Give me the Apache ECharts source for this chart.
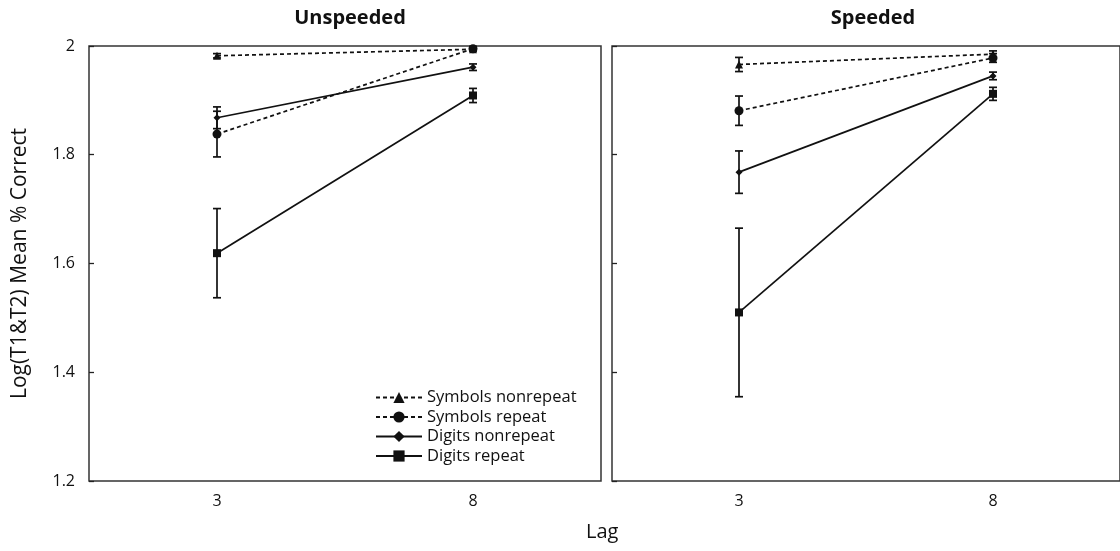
<!DOCTYPE html>
<html><head><meta charset="utf-8">
<script src="https://cdn.jsdelivr.net/npm/echarts@6/dist/echarts.min.js"></script>
<style>html,body{margin:0;padding:0;background:#fff}#c{width:1120px;height:551px}</style>
</head><body><div id="c"></div>
<script>
const lagLabels = ['3', '8'];
const seriesNames = ['Symbols nonrepeat', 'Symbols repeat', 'Digits nonrepeat', 'Digits repeat'];
const panelTitles = ['Unspeeded', 'Speeded'];
const yTickValues = [1.2, 1.4, 1.6, 1.8, 2];

const unspeededSymNon = [1.982, 1.994];
const unspeededSymNonErr = [0.004, 0.003];
const unspeededSymRep = [1.838, 1.995];
const unspeededSymRepErr = [0.042, 0.004];
const unspeededDigNon = [1.868, 1.961];
const unspeededDigNonErr = [0.020, 0.006];
const unspeededDigRep = [1.619, 1.909];
const unspeededDigRepErr = [0.082, 0.013];

const speededSymNon = [1.966, 1.985];
const speededSymNonErr = [0.013, 0.006];
const speededSymRep = [1.881, 1.978];
const speededSymRepErr = [0.027, 0.008];
const speededDigNon = [1.768, 1.945];
const speededDigNonErr = [0.039, 0.007];
const speededDigRep = [1.510, 1.912];
const speededDigRepErr = [0.155, 0.012];

const panels = [
  [[unspeededSymNon, unspeededSymNonErr], [unspeededSymRep, unspeededSymRepErr], [unspeededDigNon, unspeededDigNonErr], [unspeededDigRep, unspeededDigRepErr]],
  [[speededSymNon, speededSymNonErr], [speededSymRep, speededSymRepErr], [speededDigNon, speededDigNonErr], [speededDigRep, speededDigRepErr]]
];

const symbols = ['triangle', 'circle', 'diamond', 'rect'];
const symbolSizes = [8, 9, 7, 8];
const dashed = [true, true, false, false];
const FONT = 'Open Sans';

const chart = echarts.init(document.getElementById('c'));
const series = [];
panels.forEach((panel, p) => {
  panel.forEach(([vals, errs], s) => {
    series.push({
      type: 'custom', xAxisIndex: p, yAxisIndex: p, silent: true, clip: false, z: 3,
      data: vals.map((v, i) => [i, v - errs[i], v + errs[i]]),
      renderItem: function (params, api) {
        const lo = api.coord([api.value(0), api.value(1)]);
        const hi = api.coord([api.value(0), api.value(2)]);
        const w = 4;
        const st = { stroke: '#111', lineWidth: 1.7 };
        return { type: 'group', children: [
          { type: 'line', shape: { x1: lo[0], y1: lo[1], x2: hi[0], y2: hi[1] }, style: st },
          { type: 'line', shape: { x1: lo[0] - w, y1: lo[1], x2: lo[0] + w, y2: lo[1] }, style: st },
          { type: 'line', shape: { x1: hi[0] - w, y1: hi[1], x2: hi[0] + w, y2: hi[1] }, style: st }
        ]};
      }
    });
    series.push({
      name: seriesNames[s], type: 'line', xAxisIndex: p, yAxisIndex: p, z: 4,
      data: vals, symbol: symbols[s], symbolSize: symbolSizes[s], showSymbol: true,
      clip: false, animation: false,
      lineStyle: { color: '#111', width: 1.7, type: dashed[s] ? [4, 3] : 'solid' },
      itemStyle: { color: '#111' }
    });
  });
});

const yAxisBase = (p) => ({
  type: 'value', gridIndex: p, min: 1.2, max: 2, interval: 0.2,
  axisLine: { show: false }, splitLine: { show: false },
  axisTick: { show: true, inside: true, length: 5, lineStyle: { color: '#222', width: 1.3 } },
  axisLabel: { show: p === 0, color: '#111', fontFamily: FONT, fontSize: 16, margin: 14,
    formatter: v => yTickValues.includes(+v.toFixed(1)) ? String(+v.toFixed(1)) : '' }
});

chart.setOption({
  animation: false,
  backgroundColor: '#fff',
  title: [
    { text: panelTitles[0], left: 345, top: 3, textAlign: 'center', textStyle: { fontFamily: FONT, fontWeight: 'bold', fontSize: 20, color: '#111' } },
    { text: panelTitles[1], left: 868, top: 3, textAlign: 'center', textStyle: { fontFamily: FONT, fontWeight: 'bold', fontSize: 20, color: '#111' } }
  ],
  grid: [
    { left: 89, top: 46, width: 512, height: 435, show: true, borderColor: '#333', borderWidth: 1.5, backgroundColor: 'transparent' },
    { left: 612, top: 46, width: 512, height: 435, show: true, borderColor: '#333', borderWidth: 1.5, backgroundColor: 'transparent' }
  ],
  xAxis: [0, 1].map(p => ({
    type: 'category', gridIndex: p, data: lagLabels, boundaryGap: true,
    axisLine: { show: false }, axisTick: { show: false }, splitLine: { show: false },
    axisLabel: { color: '#111', fontFamily: FONT, fontSize: 16, margin: 12 }
  })),
  yAxis: [
    Object.assign(yAxisBase(0), { name: 'Log(T1&T2) Mean % Correct', nameLocation: 'middle', nameGap: 58,
      nameTextStyle: { fontFamily: FONT, fontSize: 21, color: '#111' } }),
    yAxisBase(1)
  ],
  legend: {
    data: seriesNames, orient: 'vertical', left: 370, top: 384,
    itemWidth: 46, itemHeight: 14, itemGap: 2.5,
    textStyle: { fontFamily: FONT, fontSize: 16.5, lineHeight: 16, color: '#111' },
    inactiveColor: '#111'
  },
  graphic: [
    { type: 'text', left: 586, top: 522, style: { text: 'Lag', font: '20px "Open Sans"', fill: '#111' } }
  ],
  series: series
});
</script></body></html>
